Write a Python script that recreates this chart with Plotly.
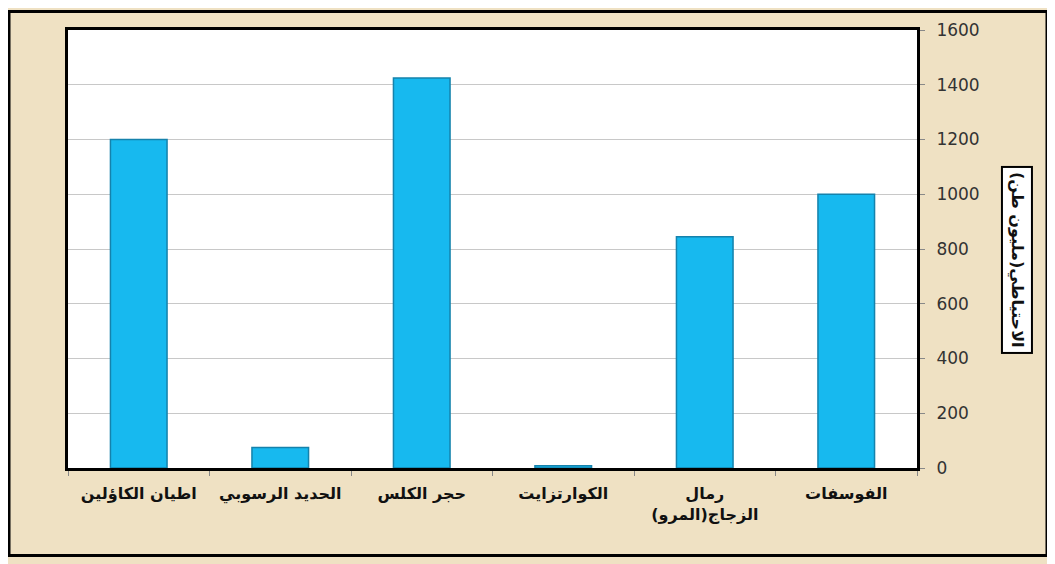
import plotly.graph_objects as go

categories = ["اطيان الكاؤلين", "الحديد الرسوبي", "حجر الكلس", "الكوارتزايت", "رمال<br>الزجاج(المرو)", "الفوسفات"]
values = [1200, 75, 1425, 8, 845, 1000]
y_ticks = [0, 200, 400, 600, 800, 1000, 1200, 1400, 1600]
y_title = "الاحتياطي(مليون طن)"

OFF = 8  # page body margin
W, H = 1055 - OFF, 564 - OFF
L, T = 68 - OFF, 28 - OFF
pw, ph = 849, 440
R, B = W - L - pw, H - T - ph

def px_x(p):
    return (p - OFF - L) / pw

def px_y(p):
    return (T + ph - (p - OFF)) / ph

fig = go.Figure()
fig.add_trace(go.Bar(
    x=categories, y=values,
    marker=dict(color="#17B9EF", line=dict(color="#1582AC", width=1.5)),
    width=0.4,
))

fig.update_layout(
    width=W, height=H,
    margin=dict(l=L, r=R, t=T, b=B),
    paper_bgcolor="#EFE1C3",
    plot_bgcolor="white",
    showlegend=False,
    font=dict(family="DejaVu Sans", color="#222"),
    xaxis=dict(
        type="category",
        showline=True, linecolor="black", linewidth=3, mirror=True,
        ticks="outside", tickson="boundaries", ticklen=5, tickcolor="#888",
        tickfont=dict(size=16, color="#111", family="DejaVu Sans", weight="bold"),
        ticklabelstandoff=9,
        showgrid=False,
    ),
    yaxis=dict(
        side="right", range=[0, 1600], tickvals=y_ticks,
        showline=True, linecolor="black", linewidth=3, mirror=True,
        ticks="outside", ticklen=5, tickcolor="#888",
        showgrid=True, gridcolor="#C8C8C8", gridwidth=1,
        tickfont=dict(size=17, color="#333", family="DejaVu Sans"),
        ticklabelstandoff=8, zeroline=False,
    ),
)

fig.add_shape(type="rect", xref="paper", yref="paper",
              x0=px_x(9), x1=px_x(1047), y0=px_y(556), y1=px_y(9.5),
              line=dict(color="black", width=3), layer="below")

fig.add_annotation(
    xref="paper", yref="paper", x=px_x(1017), y=px_y(259),
    xanchor="center", yanchor="middle",
    text=y_title, textangle=90, showarrow=False,
    font=dict(size=16, color="#111", family="DejaVu Sans", weight="bold"),
    bgcolor="white", bordercolor="black", borderwidth=2, borderpad=4,
)

fig.write_html("out.html")
